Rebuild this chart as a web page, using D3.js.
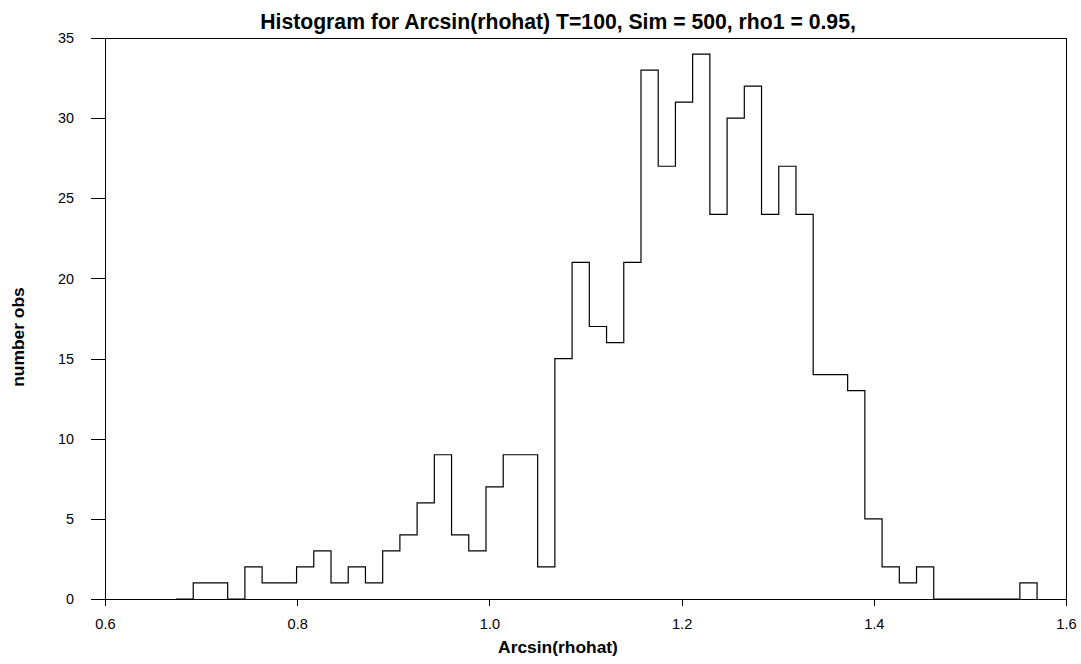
<!DOCTYPE html>
<html>
<head>
<meta charset="utf-8">
<script src="https://cdn.jsdelivr.net/npm/d3@7"></script>
<style>
  html, body { margin: 0; padding: 0; background: #fff; }
  svg { display: block; font-family: "Liberation Sans", Arial, sans-serif; }
</style>
</head>
<body>
<svg id="chart" width="1081" height="664"></svg>
<script>
// ---- data ----
const title = "Histogram for Arcsin(rhohat) T=100, Sim = 500, rho1 = 0.95,";
const xLabel = "Arcsin(rhohat)";
const yLabel = "number obs";
const binStart = 0.6739;
const binWidth = 0.01792;
const counts = [0, 1, 1, 0, 2, 1, 1, 2, 3, 1,
                2, 1, 3, 4, 6, 9, 4, 3, 7, 9,
                9, 2, 15, 21, 17, 16, 21, 33, 27, 31,
                34, 24, 30, 32, 24, 27, 24, 14, 14, 13,
                5, 2, 1, 2, 0, 0, 0, 0, 0, 1];
const xTicks = [0.6, 0.8, 1.0, 1.2, 1.4, 1.6];
const yTicks = [0, 5, 10, 15, 20, 25, 30, 35];

// ---- layout ----
const svg = d3.select("#chart");
const pLeft = 105, pRight = 1066, pTop = 38, pBottom = 599;
const textCenterX = 558, textCenterY = 337;

const x = d3.scaleLinear().domain([0.6, 1.6]).range([pLeft, pRight]);
const y = d3.scaleLinear().domain([0, 35]).range([pBottom, pTop]);

// frame
svg.append("rect")
  .attr("x", pLeft).attr("y", pTop)
  .attr("width", pRight - pLeft).attr("height", pBottom - pTop)
  .attr("fill", "none").attr("stroke", "#000").attr("stroke-width", 1)
  .attr("shape-rendering", "crispEdges");

// y axis
const yAxis = svg.append("g").attr("transform", `translate(${pLeft},0)`)
  .call(d3.axisLeft(y).tickValues(yTicks).tickSize(14).tickPadding(17).tickFormat(d3.format("d")));
yAxis.select(".domain").remove();
yAxis.selectAll("line").attr("stroke", "#000").attr("shape-rendering", "crispEdges");
yAxis.selectAll("text").attr("font-size", 14.4).attr("fill", "#000")
  .attr("font-family", "Liberation Sans, Arial, sans-serif");

// x axis
const xAxis = svg.append("g").attr("transform", `translate(0,${pBottom})`)
  .call(d3.axisBottom(x).tickValues(xTicks).tickSize(7).tickPadding(13).tickFormat(d3.format(".1f")));
xAxis.select(".domain").remove();
xAxis.selectAll("line").attr("stroke", "#000").attr("shape-rendering", "crispEdges");
xAxis.selectAll("text").attr("font-size", 14.6).attr("fill", "#000")
  .attr("font-family", "Liberation Sans, Arial, sans-serif");

// histogram step outline
const pts = [[binStart, 0]];
counts.forEach((c, i) => {
  const e0 = binStart + i * binWidth;
  pts.push([e0, c]);
  pts.push([e0 + binWidth, c]);
});
pts.push([binStart + counts.length * binWidth, 0]);

const line = d3.line().x(d => x(d[0])).y(d => y(d[1]));
svg.append("path")
  .attr("d", line(pts))
  .attr("fill", "none")
  .attr("stroke", "#000")
  .attr("stroke-width", 1.2);

// title and labels
svg.append("text")
  .attr("x", textCenterX).attr("y", 28.5)
  .attr("text-anchor", "middle")
  .attr("font-size", 21.2).attr("font-weight", "bold")
  .text(title);

svg.append("text")
  .attr("x", textCenterX).attr("y", 653)
  .attr("text-anchor", "middle")
  .attr("font-size", 17.4).attr("font-weight", "bold")
  .text(xLabel);

svg.append("text")
  .attr("transform", `translate(24,${textCenterY}) rotate(-90)`)
  .attr("text-anchor", "middle")
  .attr("font-size", 17.4).attr("font-weight", "bold")
  .text(yLabel);
</script>
</body>
</html>
